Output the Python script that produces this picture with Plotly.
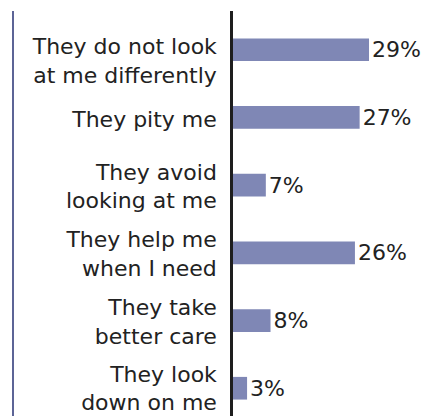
import plotly.graph_objects as go

# Survey answers, listed top to bottom
categories = [
    "They do not look<br>at me differently",
    "They pity me",
    "They avoid<br>looking at me",
    "They help me<br>when I need",
    "They take<br>better care",
    "They look<br>down on me",
]
shares = [29, 27, 7, 26, 8, 3]

positions = list(range(len(categories)))

# Layout: vertical nudge (px, downward) applied to each category label
label_nudge_px = [11, 2, 1, 1, 1, 0]

BAR_COLOR = "#7f87b5"
TEXT_COLOR = "#222222"
FONT = "DejaVu Sans"

WIDTH, HEIGHT = 426, 416
MARGIN = dict(l=233, r=0, t=11, b=0)
Y_RANGE = [5.41, -0.572]
px_per_unit = (HEIGHT - MARGIN["t"] - MARGIN["b"]) / (Y_RANGE[0] - Y_RANGE[1])
label_vals = [p + n / px_per_unit for p, n in zip(positions, label_nudge_px)]

fig = go.Figure(
    go.Bar(
        x=shares,
        y=positions,
        orientation="h",
        width=0.335,
        marker=dict(color=BAR_COLOR, line=dict(width=0)),
        text=[f"{v}%" for v in shares],
        textposition="outside",
        constraintext="none",
        textfont=dict(family=FONT, size=22, color=TEXT_COLOR),
        cliponaxis=False,
        hoverinfo="skip",
    )
)

fig.update_layout(
    width=WIDTH,
    height=HEIGHT,
    margin=MARGIN,
    paper_bgcolor="white",
    plot_bgcolor="white",
    showlegend=False,
    font=dict(family=FONT, color=TEXT_COLOR),
    xaxis=dict(
        range=[0, 41.15],
        showgrid=False,
        zeroline=False,
        showticklabels=False,
        showline=False,
        fixedrange=True,
    ),
    yaxis=dict(
        range=Y_RANGE,
        tickmode="array",
        tickvals=label_vals,
        ticktext=categories,
        tickfont=dict(family=FONT, size=22, color=TEXT_COLOR),
        ticks="",
        ticklabelstandoff=9,
        showgrid=False,
        zeroline=False,
        showline=True,
        linecolor="#1e1e1e",
        linewidth=2.5,
        fixedrange=True,
    ),
    shapes=[
        dict(
            type="line",
            xref="paper",
            yref="paper",
            x0=-233 / 193 + 13 / 193,
            x1=-233 / 193 + 13 / 193,
            y0=0,
            y1=1.0,
            line=dict(color="#5c6496", width=2),
        )
    ],
)

fig.write_html("out.html")
